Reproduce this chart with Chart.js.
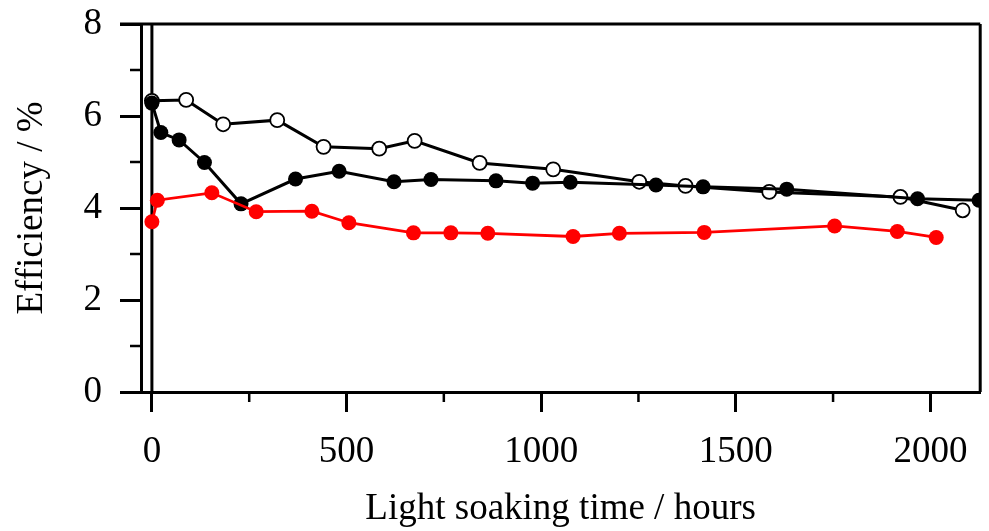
<!DOCTYPE html>
<html><head><meta charset="utf-8">
<script src="https://cdn.jsdelivr.net/npm/chart.js@4"></script>
<style>html,body{margin:0;padding:0;background:#fff}</style>
</head><body>
<canvas id="c" width="989" height="531"></canvas>
<script>
// Open black circles
const openHours = [0, 88, 183, 322, 441, 584, 675, 842, 1031, 1252, 1371, 1586, 1923, 2083];
const openEff   = [6.33, 6.35, 5.82, 5.91, 5.33, 5.29, 5.46, 4.98, 4.84, 4.57, 4.48, 4.35, 4.24, 3.95];
// Filled black circles
const filledHours = [0, 23, 70, 135, 229, 369, 481, 622, 717, 884, 978, 1075, 1295, 1416, 1631, 1967, 2125];
const filledEff   = [6.28, 5.64, 5.48, 4.99, 4.09, 4.63, 4.80, 4.57, 4.62, 4.59, 4.54, 4.56, 4.50, 4.46, 4.41, 4.20, 4.17];
// Red filled circles
const redHours = [0, 14, 154, 268, 411, 506, 672, 768, 863, 1082, 1201, 1419, 1754, 1915, 2015];
const redEff   = [3.70, 4.17, 4.33, 3.92, 3.93, 3.68, 3.46, 3.46, 3.45, 3.38, 3.45, 3.47, 3.61, 3.49, 3.36];

const xMajorTicks = [0, 500, 1000, 1500, 2000];
const xMinorTicks = [250, 750, 1250, 1750];
const yMajorTicks = [0, 2, 4, 6, 8];
const yMinorTicks = [1, 3, 5, 7];
const xLabel = 'Light soaking time / hours';
const yLabel = 'Efficiency / %';

const toPts = (xs, ys) => xs.map((x, i) => ({x: x, y: ys[i]}));
const FONT = 'Liberation Serif';

const framePlugin = {
  id: 'frame',
  beforeDatasetsDraw(chart) {
    const {ctx, chartArea: a, scales: {x}} = chart;
    ctx.save();
    ctx.strokeStyle = '#000';
    ctx.lineWidth = 3;
    const x0 = x.getPixelForValue(0);
    ctx.beginPath();
    ctx.moveTo(x0, a.top); ctx.lineTo(x0, a.bottom);
    ctx.stroke();
    ctx.restore();
  },
  afterDatasetsDraw(chart) {
    const {ctx, chartArea: a, scales: {x, y}} = chart;
    ctx.save();
    ctx.strokeStyle = '#000';
    ctx.lineWidth = 3;
    ctx.beginPath();
    ctx.moveTo(a.left - 21, a.top); ctx.lineTo(a.right, a.top);
    ctx.moveTo(a.right, a.top); ctx.lineTo(a.right, a.bottom);
    ctx.stroke();
    ctx.lineWidth = 2.5;
    ctx.beginPath();
    xMinorTicks.forEach(v => { const p = x.getPixelForValue(v); ctx.moveTo(p, a.bottom); ctx.lineTo(p, a.bottom + 10); });
    yMinorTicks.forEach(v => { const p = y.getPixelForValue(v); ctx.moveTo(a.left, p); ctx.lineTo(a.left - 11, p); });
    ctx.stroke();
    ctx.restore();
  }
};

new Chart(document.getElementById('c'), {
  type: 'scatter',
  data: {
    datasets: [
      {data: toPts(redHours, redEff), showLine: true, borderColor: '#f00', backgroundColor: '#f00',
       borderWidth: 2.8, pointRadius: 7.5, pointBorderWidth: 0, pointBackgroundColor: '#f00', order: 1},
      {data: toPts(filledHours, filledEff), showLine: true, borderColor: '#000', backgroundColor: '#000',
       borderWidth: 3, pointRadius: 7.5, pointBorderWidth: 0, pointBackgroundColor: '#000', order: 2},
      {data: toPts(openHours, openEff), showLine: true, borderColor: '#000', backgroundColor: '#fff',
       borderWidth: 3, pointRadius: 7, pointBorderWidth: 1.8, pointBorderColor: '#000', pointBackgroundColor: '#fff', order: 3}
    ]
  },
  options: {
    responsive: false,
    animation: false,
    layout: {padding: {top: 24, right: 2, left: 0, bottom: 0}},
    plugins: {legend: {display: false}, tooltip: {enabled: false}},
    scales: {
      x: {
        type: 'linear', min: -28, max: 2128,
        afterFit(s) { s.height = 139; s.paddingLeft = 0; s.paddingRight = 0; },
        afterBuildTicks(s) { s.ticks = xMajorTicks.map(v => ({value: v})); },
        ticks: {font: {family: FONT, size: 37}, color: '#000', padding: 18, maxRotation: 0, autoSkip: false,
                callback: v => String(v)},
        grid: {display: true, drawOnChartArea: false, drawTicks: true, tickLength: 20, tickWidth: 3, tickColor: '#000'},
        border: {display: true, color: '#000', width: 3},
        title: {display: true, text: xLabel, font: {family: FONT, size: 37}, color: '#000', padding: {top: 0, bottom: 0}}
      },
      y: {
        type: 'linear', min: 0, max: 8,
        afterFit(s) { s.width = 141; s.paddingTop = 0; s.paddingBottom = 0; },
        afterBuildTicks(s) { s.ticks = yMajorTicks.map(v => ({value: v})); },
        ticks: {font: {family: FONT, size: 37}, color: '#000', padding: 18, autoSkip: false,
                callback: v => String(v)},
        grid: {display: true, drawOnChartArea: false, drawTicks: true, tickLength: 21, tickWidth: 3, tickColor: '#000'},
        border: {display: true, color: '#000', width: 3},
        title: {display: true, text: yLabel, font: {family: FONT, size: 37}, color: '#000', padding: {top: 10, bottom: 0}}
      }
    }
  },
  plugins: [framePlugin]
});
</script>
</body></html>
